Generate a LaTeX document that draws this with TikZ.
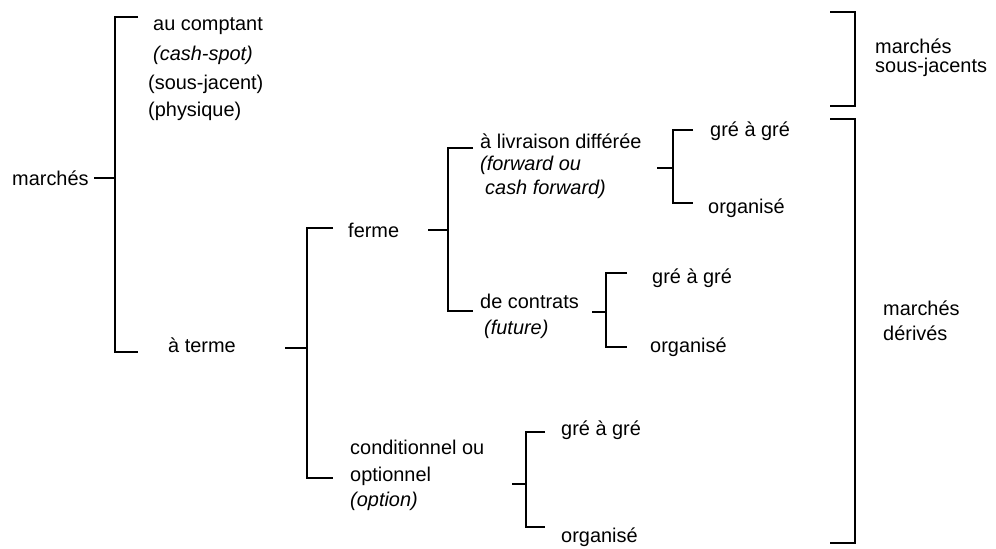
\documentclass[tikz,border=0pt]{standalone}
\usepackage{fontspec}
\setmainfont{Liberation Sans}
\usetikzlibrary{positioning, calc}

\begin{document}
\begin{tikzpicture}[
    x=0.03cm, y=-0.03cm,
    lbl/.style={
        anchor=base west,
        inner sep=0pt,
        font=\fontsize{17}{20}\selectfont
    },
    ital/.style={
        lbl,
        font=\fontsize{17}{20}\selectfont\itshape
    },
    brk/.style={
        line width=2.4pt,
        line join=miter,
        line cap=butt
    }
]
    \useasboundingbox (0,0) rectangle (996,548);

    % textes
    \node[lbl] (marches) at (12,185) {marchés};
    \node[lbl] (comptant) at (153,30) {au comptant};
    \node[ital] (cashspot) at (153,60) {(cash-spot)};
    \node[lbl] (sousjacent) at (148,89) {(sous-jacent)};
    \node[lbl] (physique) at (148,116) {(physique)};
    \node[lbl] (terme) at (168,352) {à terme};
    \node[lbl] (ferme) at (348,237) {ferme};
    \node[lbl] (livraison) at (480,148) {à livraison différée};
    \node[ital] (forward) at (480,170) {(forward ou};
    \node[ital] (cashfwd) at (485,194) {cash forward)};
    \node[lbl] (contrats) at (480,308) {de contrats};
    \node[ital] (future) at (484,334) {(future)};
    \node[lbl] (greA) at (710,136) {gré à gré};
    \node[lbl] (orgA) at (708,213) {organisé};
    \node[lbl] (greB) at (652,283) {gré à gré};
    \node[lbl] (orgB) at (650,352) {organisé};
    \node[lbl] (conditionnel) at (350,454) {conditionnel ou};
    \node[lbl] (optionnel) at (350,481) {optionnel};
    \node[ital] (option) at (350,506) {(option)};
    \node[lbl] (greC) at (561,435) {gré à gré};
    \node[lbl] (orgC) at (561,542) {organisé};
    \node[lbl] (mSous) at (875,53) {marchés};
    \node[lbl] (sousjacents) at (875,72) {sous-jacents};
    \node[lbl] (mDeriv) at (883,315) {marchés};
    \node[lbl] (derives) at (883,340) {dérivés};

    % accolades
    \coordinate (marchesT) at (94,178);
    \coordinate (comptantT) at (138,17);
    \coordinate (termeB) at (138,352);
    \draw[brk] (marchesT) -- ++(21,0);
    \draw[brk] (comptantT) -- ++(-23,0) |- (termeB);

    \coordinate (termeT) at (285,348);
    \coordinate (fermeT) at (333,228);
    \coordinate (optionB) at (333,478);
    \draw[brk] (termeT) -- ++(22,0);
    \draw[brk] (fermeT) -- ++(-26,0) |- (optionB);

    \coordinate (fermeK) at (428,230);
    \coordinate (livraisonT) at (473,148);
    \coordinate (contratsB) at (473,311);
    \draw[brk] (fermeK) -- ++(20,0);
    \draw[brk] (livraisonT) -- ++(-25,0) |- (contratsB);

    \coordinate (livraisonK) at (657,168);
    \coordinate (greAT) at (693,130);
    \coordinate (orgAB) at (693,203);
    \draw[brk] (livraisonK) -- ++(16,0);
    \draw[brk] (greAT) -- ++(-20,0) |- (orgAB);

    \coordinate (contratsK) at (592,312);
    \coordinate (greBT) at (627,273);
    \coordinate (orgBB) at (627,347);
    \draw[brk] (contratsK) -- ++(14,0);
    \draw[brk] (greBT) -- ++(-21,0) |- (orgBB);

    \coordinate (optionK) at (512,484);
    \coordinate (greCT) at (545,432);
    \coordinate (orgCB) at (545,527);
    \draw[brk] (optionK) -- ++(14,0);
    \draw[brk] (greCT) -- ++(-19,0) |- (orgCB);

    \coordinate (sousT) at (830,12);
    \coordinate (sousB) at (830,106);
    \draw[brk] (sousT) -- ++(25,0) |- (sousB);

    \coordinate (derivT) at (830,119);
    \coordinate (derivB) at (830,543);
    \draw[brk] (derivT) -- ++(25,0) |- (derivB);

\end{tikzpicture}
\end{document}
